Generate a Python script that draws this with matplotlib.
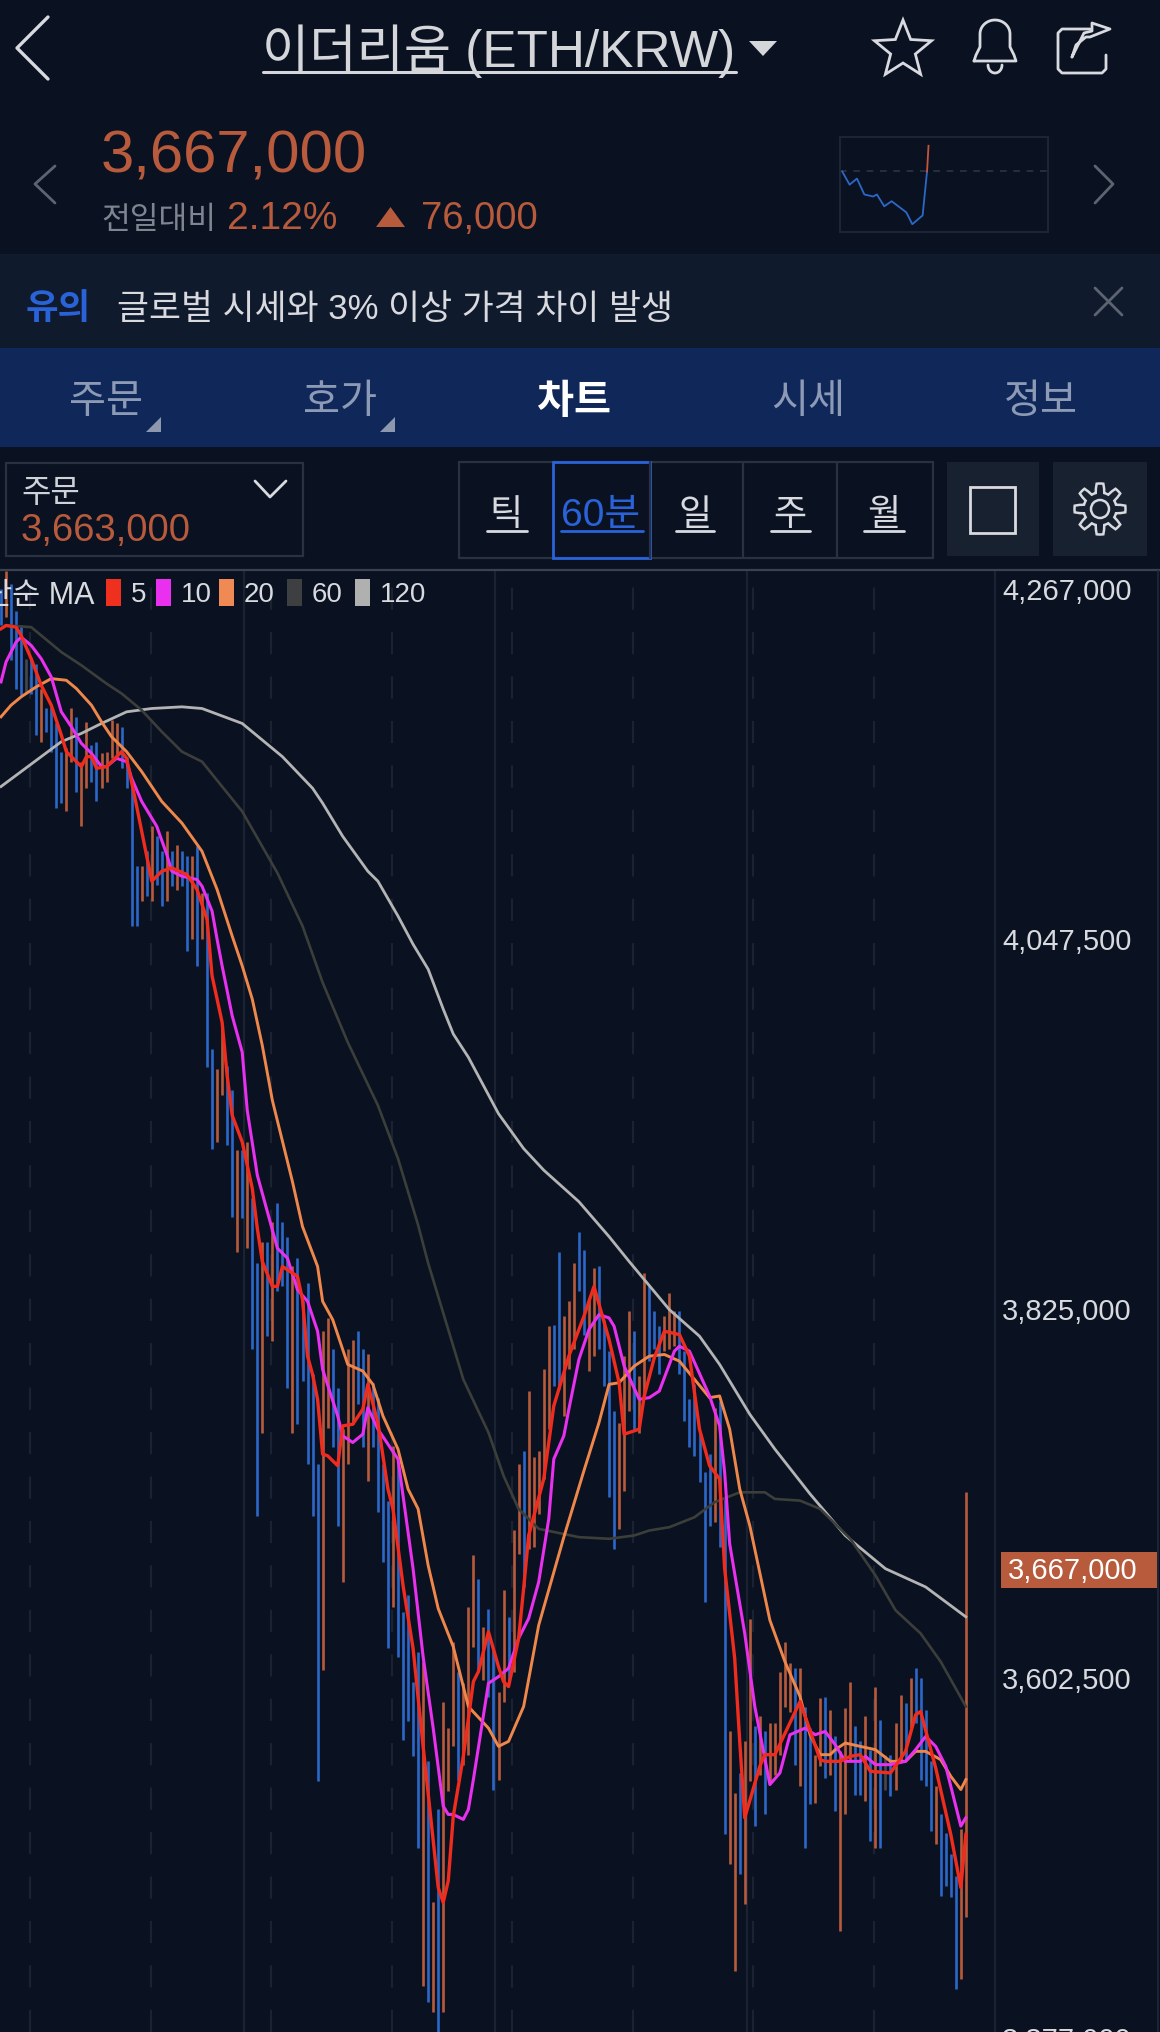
import numpy as np
import matplotlib
matplotlib.use('Agg')
import matplotlib.pyplot as plt
from matplotlib.patches import Rectangle, Polygon, Circle

plt.rcParams['font.family'] = ['Liberation Sans', 'Noto Sans CJK KR', 'DejaVu Sans']

# colours
BG = '#0a1222'
UP = '#b85a3c'
DOWN = '#2c68c8'
FLAT = '#45474a'
TXT = '#d8dadf'
DIM = '#5c6470'

# 60 minute bars, thousand won
highs = [4258,4269,4261,4245,4236,4216,4216,4213,4198,4186,4187,4177,4160,4162,4186,4181,4154,4178,4164,4166,
         4159,4160,4179,4177,4175,4157,4142,4091,4091,4100,4115,4109,4100,4112,4100,4104,4100,4097,4097,4103,
         4075,4075,3981,3969,3994,3971,3956,3920,3920,3925,3891,3852,3865,3865,3877,3888,3877,3868,3850,3855,
         3829,3840,3785,3731,3811,3819,3800,3777,3752,3800,3806,3811,3800,3797,3780,3771,3731,3709,3742,3732,
         3642,3652,3600,3618,3612,3552,3467,3523,3588,3572,3624,3606,3599,3645,3676,3662,3633,3644,3620,3594,
         3655,3639,3691,3731,3739,3775,3735,3739,3788,3814,3815,3859,3820,3829,3852,3871,3860,3830,3849,3850,
         3818,3799,3763,3756,3796,3823,3811,3784,3846,3838,3823,3814,3820,3834,3823,3823,3799,3770,3779,3750,
         3726,3737,3765,3769,3710,3570,3533,3545,3564,3638,3573,3579,3570,3575,3575,3606,3624,3611,3608,3608,
         3585,3572,3556,3590,3591,3583,3567,3558,3584,3600,3573,3564,3579,3559,3597,3577,3556,3556,3575,3592,
         3587,3602,3608,3602,3583,3552,3537,3520,3509,3496,3483,3511,3714]
lows = [4236,4241,4215,4198,4194,4196,4195,4170,4166,4172,4160,4126,4129,4124,4154,4136,4115,4138,4142,4130,
        4138,4142,4156,4157,4150,4138,4055,4055,4070,4073,4070,4080,4067,4070,4079,4077,4079,4040,4047,4031,
        4047,3970,3921,3925,3953,3923,3880,3859,3879,3861,3800,3700,3750,3808,3805,3835,3838,3777,3750,3755,
        3781,3731,3700,3540,3607,3753,3741,3694,3660,3731,3755,3767,3741,3721,3741,3702,3672,3620,3645,3615,
        3565,3576,3555,3500,3417,3407,3401,3385,3401,3534,3561,3541,3550,3556,3621,3606,3601,3591,3535,3541,
        3588,3600,3606,3677,3657,3680,3681,3701,3722,3752,3778,3776,3760,3788,3800,3835,3809,3787,3796,3800,
        3778,3711,3680,3692,3715,3763,3752,3750,3770,3793,3800,3785,3799,3800,3802,3785,3757,3741,3736,3720,
        3648,3694,3696,3681,3508,3490,3426,3484,3466,3540,3513,3544,3520,3539,3544,3556,3585,3582,3550,3537,
        3500,3526,3527,3549,3542,3544,3522,3450,3520,3552,3532,3532,3528,3504,3500,3500,3535,3531,3535,3553,
        3553,3572,3575,3541,3537,3510,3502,3471,3477,3470,3415,3421,3458]
# b falling, o rising, g unchanged, ten bars a group
bar_kind = ('bobbbgbbob' 'bbboobOobb' 'oooobbbbob' 'obbobobbob' 'obboobbobo'
            'bbobobbbob' 'bbbboobboo' 'obbobbbbob' 'bbbbobOboo' 'obooobobbo'
            'oboobooooo' 'bbooobboob' 'bbboooboob' 'bbooobbbbb' 'bbobboOboo'
            'bobooooobo' 'bboobobooo' 'bbobobgboo' 'bobbbbobbb' 'boo').lower()

# moving averages, (bar number, thousand won)
ma5_x = [0,1,3,4,6,8,10,12,13,15,16,17,18,19,21,23,24,25,27,29,30,32,34,37,39,41,42,44,45,46,48,50,51,52,54,55,56,58,59,60,61,62,63,64,65,67,68,70,72,73,75,77,78,80,82,84,87,88,89,90,92,94,95,97,99,100,101,103,104,105,108,110,113,116,118,121,123,124,127,128,130,132,135,137,139,141,143,144,146,147,148,151,152,154,159,163,164,167,169,171,173,177,180,182,183,186,189,191,192]
ma5_y = [4234,4236,4235,4230,4216,4200,4188,4170,4160,4154,4151,4157,4157,4150,4151,4157,4160,4156,4127,4097,4082,4088,4090,4086,4077,4059,4025,3997,3965,3941,3925,3897,3873,3853,3838,3838,3850,3846,3844,3830,3796,3785,3770,3737,3736,3730,3754,3755,3764,3779,3756,3716,3704,3658,3620,3561,3476,3467,3480,3519,3555,3600,3606,3630,3609,3600,3597,3626,3656,3688,3722,3766,3796,3820,3838,3806,3780,3749,3752,3772,3795,3811,3809,3796,3752,3730,3722,3668,3614,3564,3518,3549,3556,3556,3588,3553,3552,3552,3555,3556,3546,3545,3558,3580,3582,3548,3508,3476,3508]
ma10_x = [0,1,3,4,6,8,10,12,14,16,18,20,21,23,25,26,28,31,33,34,36,39,40,42,43,44,46,48,49,51,53,55,57,59,61,63,64,67,68,70,72,73,75,77,79,82,84,86,88,89,90,92,93,94,97,99,101,103,105,107,109,110,112,113,115,117,119,121,122,124,127,129,131,134,135,137,141,143,144,145,148,150,153,155,157,160,162,164,166,168,171,172,174,177,180,182,184,186,188,191,192]
ma10_y = [4202,4214,4226,4229,4224,4216,4205,4184,4175,4165,4159,4151,4151,4156,4154,4144,4130,4115,4098,4088,4085,4083,4079,4064,4047,4031,4001,3979,3944,3905,3883,3861,3855,3836,3829,3811,3788,3760,3748,3744,3749,3765,3752,3743,3734,3668,3615,3572,3525,3520,3520,3517,3523,3541,3599,3603,3608,3626,3638,3660,3698,3734,3748,3764,3794,3812,3821,3819,3814,3790,3770,3771,3775,3799,3802,3799,3772,3754,3726,3683,3629,3585,3538,3545,3568,3572,3568,3570,3562,3552,3552,3555,3550,3550,3552,3559,3567,3561,3549,3513,3518]
ma20_x = [0,2,4,7,10,13,15,18,20,22,25,28,30,32,36,40,43,46,48,50,52,54,58,60,63,64,66,69,72,74,76,79,81,83,85,87,90,92,93,97,99,101,104,107,112,116,119,121,123,126,129,132,135,138,141,143,145,147,149,153,156,159,161,163,165,166,168,171,174,177,180,182,184,187,189,191,192]
ma20_y = [4181,4188,4193,4199,4204,4203,4198,4188,4178,4169,4160,4148,4139,4130,4117,4100,4077,4049,4031,4011,3983,3950,3901,3874,3850,3829,3818,3791,3787,3779,3760,3740,3716,3704,3670,3644,3621,3597,3585,3572,3561,3564,3585,3634,3687,3727,3756,3779,3780,3790,3796,3797,3793,3782,3771,3772,3752,3716,3694,3637,3612,3591,3568,3556,3556,3559,3563,3561,3559,3552,3552,3558,3558,3553,3543,3535,3541]
ma60_x = [1,6,8,12,16,21,24,28,32,36,40,44,48,55,60,64,69,75,79,83,85,89,92,97,100,103,107,115,121,126,129,133,138,142,147,152,154,159,163,169,174,178,183,187,192]
ma60_y = [4236,4235,4230,4220,4212,4201,4195,4185,4172,4160,4154,4139,4124,4087,4055,4021,3985,3947,3915,3875,3852,3812,3782,3750,3724,3704,3692,3687,3686,3688,3691,3693,3699,3708,3714,3714,3710,3709,3704,3686,3664,3643,3629,3612,3585]
ma120_x = [0,4,8,12,16,20,25,30,36,40,48,56,62,64,68,73,75,79,82,85,88,90,93,99,104,108,115,121,125,133,139,143,149,154,161,168,176,184,188,192]
ma120_y = [4139,4148,4157,4166,4171,4177,4184,4186,4187,4186,4177,4157,4138,4129,4109,4088,4082,4061,4044,4029,4005,3990,3976,3942,3921,3908,3889,3868,3853,3824,3808,3791,3761,3740,3713,3688,3668,3657,3648,3639]

# right hand scale
price_ticks = [4047500, 3825000, 3602500]
price_now = 3667000

# small sparkline in the header
mini_t = [0,10,20,30,42,47,57,67,87,95,109,115,117]
mini_p = [3591,3552,3570,3523,3517,3523,3488,3503,3470,3435,3461,3591,3667]

fig = plt.figure(figsize=(11.6, 20.33), dpi=100, facecolor=BG)

#----- chart -----
ax = fig.add_axes([0, 0, 995 / 1160, (2033 - 572) / 2033], facecolor=BG)
ax.set_xlim(-0.2, 197.8)
ax.set_ylim(3389000, 4268800)

for g in [48.4, 98.3, 148.5]:
    ax.axvline(g, color='#1b2333', lw=1.6, zorder=1)
for g in [5.77, 29.8, 53.7, 77.8, 101.7, 125.8, 149.6, 173.7]:
    ax.axvline(g, color='#1b2333', lw=1.6, dashes=(10, 10), zorder=1)

bar_colors = []
for k in bar_kind:
    bar_colors.append({'b': DOWN, 'o': UP, 'g': FLAT}[k])
x = np.arange(len(highs))
ax.vlines(x, np.array(lows) * 1000, np.array(highs) * 1000, colors=bar_colors, lw=1.9, zorder=2)

ax.plot(ma120_x, np.array(ma120_y) * 1000, color='#b4b4b4', lw=2.0, zorder=3, solid_joinstyle='round')
ax.plot(ma60_x, np.array(ma60_y) * 1000, color='#3c3e39', lw=1.9, zorder=3, solid_joinstyle='round')
ax.plot(ma20_x, np.array(ma20_y) * 1000, color='#f0874a', lw=2.1, zorder=4, solid_joinstyle='round')
ax.plot(ma10_x, np.array(ma10_y) * 1000, color='#e830ee', lw=2.2, zorder=5, solid_joinstyle='round')
ax.plot(ma5_x, np.array(ma5_y) * 1000, color='#f02c1e', lw=2.4, zorder=6, solid_joinstyle='round')

ax.yaxis.tick_right()
ax.set_yticks(price_ticks)
ax.set_yticklabels([f'{v:,}' for v in price_ticks])
ax.tick_params(axis='y', length=0, pad=5, labelsize=21, labelcolor=TXT)
ax.set_xticks([])
for s in ['left', 'top', 'bottom']:
    ax.spines[s].set_visible(False)
ax.spines['right'].set_color('#1b2333')
ax.spines['right'].set_linewidth(1.6)

#----- everything else, in screen pixels -----
ui = fig.add_axes([0, 0, 1, 1], zorder=5)
ui.set_xlim(0, 1160)
ui.set_ylim(2033, 0)
ui.axis('off')


def label(px, py, s, size, color=TXT, ha='left', weight='normal'):
    ui.text(px, py, s, fontsize=size, color=color, ha=ha, va='center', fontweight=weight)


def pline(xs, ys, color=TXT, lw=2.0):
    ui.plot(xs, ys, color=color, lw=lw, solid_capstyle='round', solid_joinstyle='round')


# top bar
pline([48, 17, 48], [18, 49, 80], '#d8dadf', 2.4)
label(499, 51, '이더리움 (ETH/KRW)', 37, '#d4d6da', ha='center')
pline([263, 736], [73, 73], '#d4d6da', 2.2)
ui.add_patch(Polygon([(749, 42), (777, 42), (763, 57)], color='#d4d6da', lw=0))

ang = np.linspace(np.pi / 2, np.pi / 2 + 2 * np.pi, 11)
rad = np.array([30, 13] * 5 + [30])
ui.add_patch(Polygon(np.c_[903 + rad * np.cos(ang), 51 - rad * np.sin(ang)], fill=False, ec='#d8dadf', lw=2))

t = np.linspace(np.pi, 0, 30)
pline(np.r_[974, 976, 980, 995 + 15 * np.cos(t), 1010, 1014, 1016, 974],
      np.r_[62, 56, 48, 35 - 14 * np.sin(t), 48, 56, 62, 62], '#d8dadf', 2)
pline(995 + 7 * np.cos(t), 66 + 8 * np.sin(t), '#d8dadf', 2)

pline([1090, 1062, 1058, 1058, 1062, 1102, 1106, 1106], [30, 30, 34, 70, 74, 74, 70, 56], '#d8dadf', 2)
pline([1072, 1076, 1086, 1090, 1110, 1092, 1092, 1084, 1072], [58, 46, 38, 38, 30, 24, 32, 34, 58], '#d8dadf', 2)

# price header
pline([55, 35, 55], [167, 185, 204], DIM, 2)
pline([1095, 1113, 1095], [167, 185, 204], DIM, 2)
label(101, 157, '3,667,000', 43, UP)
label(101, 221, '전일대비', 22.5, '#7f8590')
label(227, 219, '2.12%', 28, UP)
ui.add_patch(Polygon([(376, 228), (405, 228), (390.5, 208)], color=UP, lw=0))
label(421, 219, '76,000', 27.5, UP)

mini = fig.add_axes([840 / 1160, 1 - 233 / 2033, 208 / 1160, 95 / 2033], facecolor=BG, zorder=6)
mini.set_xlim(-3, 279)
mini.set_ylim(3412, 3693)
mini.set_xticks([])
mini.set_yticks([])
for s in mini.spines.values():
    s.set_color('#1e2636')
    s.set_linewidth(1.4)
mini.axhline(3591, color='#2e3441', lw=1.2, dashes=(4, 4))
mini.plot(mini_t[:-1], mini_p[:-1], color='#2c68c8', lw=1.3)
mini.plot(mini_t[-2:], mini_p[-2:], color='#c4553a', lw=1.3)

# notice strip
ui.add_patch(Rectangle((0, 255), 1160, 94, color='#101a2d', lw=0))
label(26, 310, '유의', 25.5, '#2a62d8', weight='bold')
label(117, 310, '글로벌 시세와 3% 이상 가격 차이 발생', 25, '#d8dadf')
pline([1095, 1122], [289, 316], DIM, 2)
pline([1095, 1122], [316, 289], DIM, 2)

# tabs
ui.add_patch(Rectangle((0, 349), 1160, 99, color='#10275a', lw=0))
tab_names = ['주문', '호가', '차트', '시세', '정보']
tab_pos = [106, 340, 574, 808, 1041]
for p, n in zip(tab_pos, tab_names):
    if n == '차트':
        label(p, 402, n, 29, 'white', ha='center', weight='bold')
    else:
        label(p, 402, n, 29, '#8d9ab5', ha='center')
for p in [161, 395]:
    ui.add_patch(Polygon([(p, 418), (p, 433), (p - 15, 433)], color='#8d98ae', lw=0))

# toolbar
ui.add_patch(Rectangle((6, 464), 297, 93, fill=False, ec='#2a3242', lw=1.6))
label(21, 494, '주문', 23, '#cfd2d8')
label(21, 531, '3,663,000', 27.5, UP)
pline([255, 270, 286], [482, 498, 482], '#d8dadf', 2)

ui.add_patch(Rectangle((459, 463), 474, 96, fill=False, ec='#2a3242', lw=1.6))
for d in [650, 743, 837]:
    pline([d, d], [463, 559], '#2a3242', 1.6)
ui.add_patch(Rectangle((553, 463), 97, 96, fill=False, ec='#2a62d8', lw=2))
btn_names = ['틱', '60분', '일', '주', '월']
btn_pos = [506, 601, 695, 790, 884]
under = [(487, 527), (561, 643), (676, 714), (771, 810), (864, 904)]
for p, n, u in zip(btn_pos, btn_names, under):
    c = '#2a62d8' if n == '60분' else '#d8dadf'
    label(p, 516, n, 28 if n == '60분' else 26, c, ha='center')
    pline(u, [532, 532], c, 2)

ui.add_patch(Rectangle((947, 463), 92, 94, color='#182130', lw=0))
ui.add_patch(Rectangle((970, 488), 45, 46, fill=False, ec='#d8dadf', lw=2))
ui.add_patch(Rectangle((1053, 463), 94, 94, color='#182130', lw=0))
a = np.linspace(0, 2 * np.pi, 97)
r = 21 + 4.5 * np.clip(3 * np.cos(8 * a), -1, 1)
ui.add_patch(Polygon(np.c_[1100 + r * np.cos(a), 510 + r * np.sin(a)], fill=False, ec='#d8dadf', lw=1.8))
ui.add_patch(Circle((1100, 510), 9, fill=False, ec='#d8dadf', lw=1.8))

pline([0, 1160], [571, 571], '#3a4150', 1.6)

# chart legend, cut by the screen edge as in the app
label(95, 596, '단순 MA', 22, TXT, ha='right')
swatches = [(106, '#f0301f', '5', 131), (156, '#e830ee', '10', 181), (219, '#f08a55', '20', 244),
            (287, '#3d3f40', '60', 312), (355, '#b0b0b0', '120', 380)]
for sx, col, name, tx in swatches:
    ui.add_patch(Rectangle((sx, 580), 15, 27, color=col, lw=0))
    label(tx, 595, name, 20, TXT)

# top and bottom scale labels sit apart from the grid
label(1002, 592, '4,267,000', 21)
label(1002, 2041, '3,377,000', 21)

# last price tag
ax_y = ax.transData.transform((0, price_now))[1]
tag_y = 2033 - ax_y
ui.add_patch(Rectangle((1001, tag_y - 18), 156, 36, color=UP, lw=0))
label(1008, tag_y, f'{price_now:,}', 21, 'white')
pline([1158, 1158], [572, 2033], '#1e2636', 1.4)

fig.savefig('out.png', dpi=100, facecolor=BG)
